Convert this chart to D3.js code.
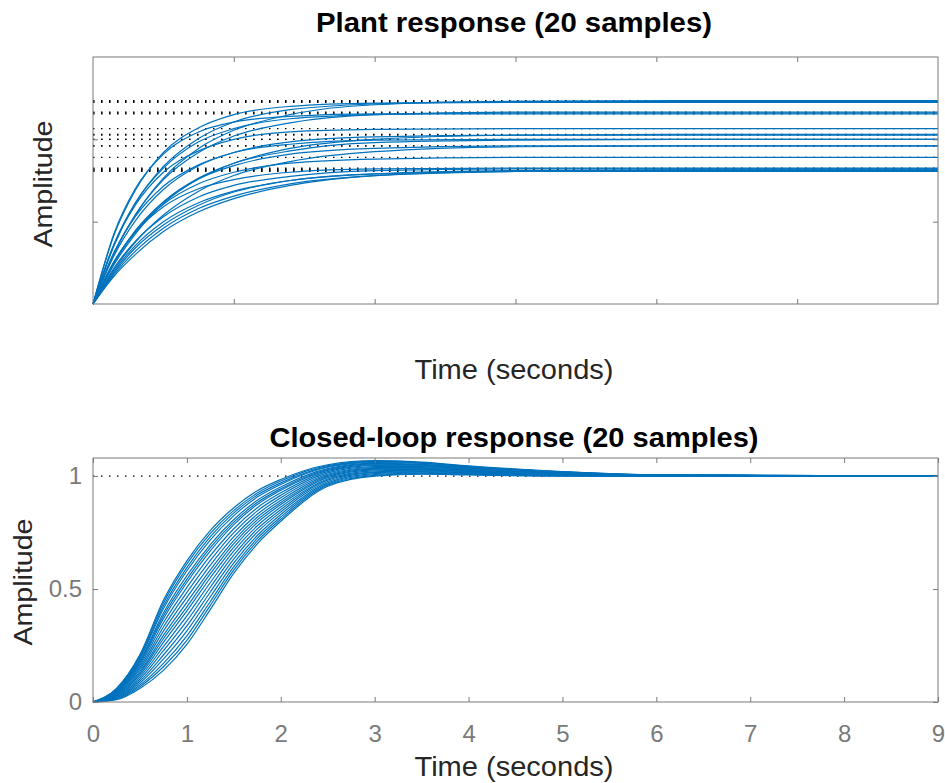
<!DOCTYPE html>
<html>
<head>
<meta charset="utf-8">
<script src="https://cdn.jsdelivr.net/npm/d3@7/dist/d3.min.js"></script>
<style>
  body { margin: 0; background: #ffffff; }
  text { font-family: "Liberation Sans", Arial, Helvetica, sans-serif; }
</style>
</head>
<body>
<svg id="chart" width="945" height="783"></svg>
<script>
// ---- data ----

// plant step responses (top panel), one row per uncertain sample
var plantTime = [0, 0.15, 0.3, 0.5, 0.75, 1, 1.4, 2, 3, 4.5, 6];
var plantSamples = [
  [0, 0.71, 1.22, 1.67, 2.01, 2.21, 2.36, 2.43, 2.46, 2.46, 2.46],
  [0, 0.84, 1.38, 1.84, 2.14, 2.30, 2.40, 2.44, 2.45, 2.45, 2.45],
  [0, 0.62, 1.08, 1.53, 1.89, 2.11, 2.30, 2.42, 2.46, 2.47, 2.47],
  [0, 0.73, 1.23, 1.65, 1.97, 2.13, 2.25, 2.30, 2.32, 2.32, 2.32],
  [0, 0.86, 1.40, 1.82, 2.09, 2.21, 2.28, 2.31, 2.31, 2.31, 2.31],
  [0, 0.62, 1.08, 1.51, 1.84, 2.04, 2.20, 2.30, 2.33, 2.33, 2.33],
  [0, 0.73, 1.20, 1.60, 1.86, 2.00, 2.09, 2.12, 2.13, 2.13, 2.13],
  [0, 0.59, 1.01, 1.39, 1.68, 1.84, 1.97, 2.03, 2.05, 2.05, 2.05],
  [0, 0.48, 0.85, 1.22, 1.52, 1.71, 1.89, 2.00, 2.05, 2.06, 2.06],
  [0, 0.63, 1.06, 1.43, 1.69, 1.84, 1.94, 1.99, 2.00, 2.00, 2.00],
  [0, 0.50, 0.88, 1.24, 1.53, 1.71, 1.86, 1.96, 1.99, 2.00, 2.00],
  [0, 0.51, 0.89, 1.24, 1.52, 1.68, 1.82, 1.89, 1.92, 1.92, 1.92],
  [0, 0.42, 0.75, 1.08, 1.37, 1.56, 1.73, 1.85, 1.91, 1.92, 1.92],
  [0, 0.51, 0.88, 1.21, 1.46, 1.60, 1.71, 1.76, 1.78, 1.78, 1.78],
  [0, 0.34, 0.60, 0.88, 1.12, 1.28, 1.44, 1.56, 1.61, 1.63, 1.63],
  [0, 0.38, 0.68, 0.96, 1.20, 1.36, 1.50, 1.58, 1.62, 1.63, 1.63],
  [0, 0.36, 0.64, 0.92, 1.16, 1.31, 1.46, 1.56, 1.61, 1.62, 1.62],
  [0, 0.44, 0.76, 1.06, 1.30, 1.44, 1.55, 1.62, 1.64, 1.64, 1.64],
  [0, 0.40, 0.71, 1.00, 1.23, 1.37, 1.50, 1.58, 1.61, 1.61, 1.61],
  [0, 0.52, 0.87, 1.18, 1.40, 1.51, 1.60, 1.64, 1.65, 1.65, 1.65]
];
var plantXTicks = [1, 2, 3, 4, 5];
var plantYTicks = [1, 2];

// closed-loop step responses (bottom panel)
var closedTime = [0, 0.25, 0.5, 0.75, 1, 1.25, 1.5, 1.75, 2, 2.5, 3, 3.5, 4, 5, 6, 9];
var closedSamples = [
  [0, 0.060, 0.210, 0.450, 0.625, 0.760, 0.860, 0.935, 0.985, 1.050, 1.068, 1.062, 1.045, 1.020, 1.005, 1],
  [0, 0.058, 0.204, 0.438, 0.611, 0.746, 0.848, 0.925, 0.978, 1.046, 1.065, 1.060, 1.043, 1.019, 1.005, 1],
  [0, 0.056, 0.198, 0.425, 0.595, 0.732, 0.837, 0.916, 0.970, 1.042, 1.063, 1.058, 1.042, 1.018, 1.005, 1],
  [0, 0.054, 0.192, 0.413, 0.581, 0.718, 0.825, 0.907, 0.963, 1.039, 1.060, 1.056, 1.040, 1.018, 1.004, 1],
  [0, 0.051, 0.183, 0.394, 0.559, 0.697, 0.808, 0.893, 0.952, 1.033, 1.056, 1.052, 1.038, 1.016, 1.004, 1],
  [0, 0.049, 0.177, 0.382, 0.543, 0.683, 0.796, 0.883, 0.944, 1.029, 1.053, 1.050, 1.036, 1.016, 1.004, 1],
  [0, 0.047, 0.171, 0.369, 0.529, 0.669, 0.785, 0.874, 0.937, 1.025, 1.050, 1.048, 1.035, 1.015, 1.004, 1],
  [0, 0.044, 0.162, 0.351, 0.507, 0.648, 0.767, 0.860, 0.926, 1.020, 1.046, 1.045, 1.032, 1.014, 1.003, 1],
  [0, 0.041, 0.153, 0.332, 0.485, 0.627, 0.750, 0.846, 0.915, 1.014, 1.042, 1.042, 1.030, 1.012, 1.003, 1],
  [0, 0.038, 0.144, 0.314, 0.463, 0.606, 0.732, 0.831, 0.904, 1.008, 1.038, 1.038, 1.027, 1.011, 1.003, 1],
  [0, 0.035, 0.135, 0.295, 0.441, 0.585, 0.715, 0.818, 0.893, 1.003, 1.034, 1.035, 1.025, 1.010, 1.003, 1],
  [0, 0.033, 0.128, 0.280, 0.421, 0.568, 0.701, 0.806, 0.883, 0.998, 1.031, 1.032, 1.023, 1.009, 1.002, 1],
  [0, 0.030, 0.120, 0.264, 0.403, 0.550, 0.686, 0.794, 0.874, 0.993, 1.027, 1.030, 1.021, 1.008, 1.002, 1],
  [0, 0.027, 0.111, 0.245, 0.381, 0.529, 0.669, 0.780, 0.863, 0.987, 1.023, 1.026, 1.019, 1.007, 1.002, 1],
  [0, 0.024, 0.102, 0.227, 0.359, 0.508, 0.651, 0.766, 0.852, 0.982, 1.019, 1.023, 1.016, 1.006, 1.001, 1],
  [0, 0.021, 0.093, 0.208, 0.337, 0.487, 0.634, 0.752, 0.841, 0.976, 1.015, 1.020, 1.014, 1.004, 1.001, 1],
  [0, 0.018, 0.084, 0.190, 0.315, 0.466, 0.616, 0.737, 0.830, 0.970, 1.011, 1.017, 1.011, 1.003, 1.001, 1],
  [0, 0.015, 0.075, 0.171, 0.293, 0.445, 0.599, 0.724, 0.819, 0.965, 1.007, 1.013, 1.009, 1.002, 1.000, 1],
  [0, 0.013, 0.068, 0.156, 0.273, 0.428, 0.585, 0.712, 0.809, 0.960, 1.003, 1.011, 1.007, 1.001, 1.000, 1],
  [0, 0.010, 0.060, 0.140, 0.255, 0.410, 0.570, 0.700, 0.800, 0.955, 1.000, 1.008, 1.005, 1.000, 1.000, 1]
];
var closedFinal = [1];
var closedXTicks = [0, 1, 2, 3, 4, 5, 6, 7, 8, 9];
var closedYTicks = [0, 0.5, 1];

// ---- drawing ----
var svg = d3.select("#chart");
var lineBlue = "#0072BD";
var axisGray = "#7a7a7a";

function drawPanel(cfg) {
  var g = svg.append("g");
  var x = d3.scaleLinear().domain(cfg.xDomain).range([93, 938]);
  var y = d3.scaleLinear().domain(cfg.yDomain).range([cfg.bottom, cfg.top]);

  // steady-state dotted lines, under the responses
  g.selectAll("line.final")
    .data(cfg.finals)
    .enter().append("line")
    .attr("class", "final")
    .attr("x1", x.range()[0])
    .attr("x2", x.range()[1])
    .attr("y1", function (d) { return y(d); })
    .attr("y2", function (d) { return y(d); })
    .attr("stroke", "#000")
    .attr("stroke-width", 1.3)
    .attr("stroke-dasharray", "1.5,6.5");

  var line = d3.line()
    .x(function (d, i) { return x(cfg.time[i]); })
    .y(function (d) { return y(d); })
    .curve(d3.curveMonotoneX);

  g.selectAll("path.resp")
    .data(cfg.samples)
    .enter().append("path")
    .attr("class", "resp")
    .attr("d", line)
    .attr("fill", "none")
    .attr("stroke", lineBlue)
    .attr("stroke-width", 1.2);

  // ticks on all four sides, pointing inwards
  var fmtX = cfg.xLabels ? d3.format("d") : function () { return ""; };
  var fmtY = cfg.yLabels ? function (d) { return d === 0.5 ? "0.5" : d3.format("d")(d); } : function () { return ""; };

  var axes = [
    g.append("g").attr("transform", "translate(0," + cfg.bottom + ")")
      .call(d3.axisBottom(x).tickValues(cfg.xTicks).tickSizeInner(-5).tickSizeOuter(0).tickPadding(23).tickFormat(fmtX)),
    g.append("g").attr("transform", "translate(0," + cfg.top + ")")
      .call(d3.axisTop(x).tickValues(cfg.xTicks).tickSizeInner(-5).tickSizeOuter(0).tickFormat("")),
    g.append("g").attr("transform", "translate(93,0)")
      .call(d3.axisLeft(y).tickValues(cfg.yTicks).tickSizeInner(-5).tickSizeOuter(0).tickPadding(11).tickFormat(fmtY)),
    g.append("g").attr("transform", "translate(938,0)")
      .call(d3.axisRight(y).tickValues(cfg.yTicks).tickSizeInner(-5).tickSizeOuter(0).tickFormat(""))
  ];
  axes.forEach(function (a) {
    a.select(".domain").remove();
    a.selectAll("line").attr("stroke", axisGray);
    a.selectAll("text")
      .attr("fill", axisGray)
      .style("font-size", "24px")
      .style("font-family", "'Liberation Sans', Arial, sans-serif");
  });

  g.append("rect")
    .attr("x", 93)
    .attr("y", cfg.top)
    .attr("width", 938 - 93)
    .attr("height", cfg.bottom - cfg.top)
    .attr("fill", "none")
    .attr("stroke", axisGray)
    .attr("stroke-width", 1);

  // titles and labels
  svg.append("text")
    .attr("x", 514).attr("y", cfg.titleY)
    .attr("text-anchor", "middle")
    .attr("font-weight", "bold")
    .attr("font-size", 27)
    .attr("textLength", cfg.titleLen)
    .attr("lengthAdjust", "spacingAndGlyphs")
    .attr("fill", "#000")
    .text(cfg.title);

  svg.append("text")
    .attr("x", 514).attr("y", cfg.xLabelY)
    .attr("text-anchor", "middle")
    .attr("font-size", 27)
    .attr("textLength", 199)
    .attr("lengthAdjust", "spacingAndGlyphs")
    .attr("fill", "#262626")
    .text("Time (seconds)");

  svg.append("text")
    .attr("transform", "translate(" + cfg.yLabelX + "," + cfg.yLabelY + ") rotate(-90)")
    .attr("text-anchor", "middle")
    .attr("font-size", 26)
    .attr("textLength", 127)
    .attr("lengthAdjust", "spacingAndGlyphs")
    .attr("fill", "#262626")
    .text("Amplitude");
}

drawPanel({
  time: plantTime,
  samples: plantSamples,
  finals: plantSamples.map(function (s) { return s[s.length - 1]; }),
  xDomain: [0, 6], yDomain: [0, 3],
  top: 57, bottom: 304,
  xTicks: plantXTicks, yTicks: plantYTicks,
  xLabels: false, yLabels: false,
  title: "Plant response (20 samples)", titleY: 32, titleLen: 396,
  xLabelY: 379, yLabelX: 52, yLabelY: 184
});

drawPanel({
  time: closedTime,
  samples: closedSamples,
  finals: closedFinal,
  xDomain: [0, 9], yDomain: [0, 1.08],
  top: 458, bottom: 702,
  xTicks: closedXTicks, yTicks: closedYTicks,
  xLabels: true, yLabels: true,
  title: "Closed-loop response (20 samples)", titleY: 447, titleLen: 489,
  xLabelY: 776, yLabelX: 32, yLabelY: 582
});
</script>
</body>
</html>
